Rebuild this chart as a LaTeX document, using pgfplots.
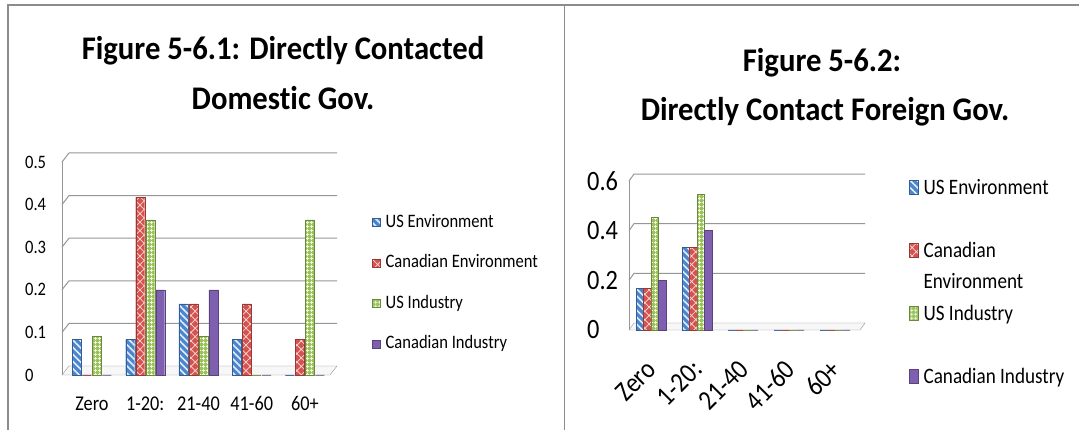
\documentclass[border=0pt]{standalone}
\usepackage{pgfplots}
\pgfplotsset{compat=1.18}
\usetikzlibrary{patterns.meta}
\usepackage{fontspec}
\setmainfont{Carlito}[Ligatures=NoCommon]
\newfontfamily\lab{Carlito}[FakeStretch=0.87, Ligatures=NoCommon]
\newfontfamily\ttl{Carlito}[FakeStretch=0.93, Ligatures=NoCommon]

\definecolor{usenv}{RGB}{74,134,208}
\definecolor{caenv}{RGB}{214,82,78}
\definecolor{usind}{RGB}{155,195,90}
\definecolor{caind}{RGB}{126,95,176}
\definecolor{gridc}{RGB}{150,150,150}
\definecolor{framec}{RGB}{140,140,140}

% shares of respondents by number of contacts
\pgfplotstableread{
x  usenv  caenv  usind  caind
0  0.083  0.000  0.091  0.000
1  0.083  0.417  0.364  0.200
2  0.167  0.167  0.091  0.200
3  0.083  0.167  0.000  0.000
4  0.000  0.083  0.364  0.000
}\domestic
\pgfplotstableread{
x  usenv  caenv  usind  caind
0  0.167  0.167  0.455  0.200
1  0.333  0.333  0.545  0.400
2  0.000  0.000  0.000  0.000
3  0.000  0.000  0.000  0.000
4  0.000  0.000  0.000  0.000
}\foreign

\pgfplotsset{
  sUSE/.style={fill=usenv, draw=usenv!70!black, line width=0.4pt,
    postaction={pattern={Lines[angle=-45, distance=5pt, line width=1.6pt]}, pattern color=white!85!usenv}},
  sCAE/.style={fill=caenv, draw=caenv!70!black, line width=0.4pt,
    postaction={pattern={Hatch[angle=45, distance=6pt, line width=0.7pt]}, pattern color=white!80!caenv}},
  sUSI/.style={fill=usind, draw=usind!70!black, line width=0.4pt,
    postaction={pattern={Hatch[angle=0, distance=4pt, line width=0.9pt]}, pattern color=white!85!usind}},
  sCAI/.style={fill=caind, draw=caind!70!black, line width=0.4pt},
  chart/.style={
    scale only axis, clip=false,
    axis line style={draw=none}, tick style={draw=none},
    xtick={0,...,4}, xticklabels={Zero,1-20:,21-40,41-60,60+},
    /pgf/number format/fixed, /pgf/number format/assume math mode=true,
    yticklabel style={anchor=west, inner sep=0pt},
  },
}

\begin{document}
\begin{tikzpicture}[x=1pt,y=1pt]
\useasboundingbox (0,0) rectangle (1079,430);
\fill[white] (0,0) rectangle (1079,430);
\draw[framec, line width=2pt] (8,0) -- (8,424.5) -- (1079,424.5);
\draw[framec, line width=1pt] (564,0) -- (564,424.5);

% titles
\node[font=\ttl\bfseries\fontsize{33}{40}\selectfont, anchor=base] at (283,370) {Figure 5-6.1: Directly Contacted};
\node[font=\ttl\bfseries\fontsize{33}{40}\selectfont, anchor=base] at (283,320) {Domestic Gov.};
\node[font=\ttl\bfseries\fontsize{33}{40}\selectfont, anchor=base] at (822,358) {Figure 5-6.2:};
\node[font=\ttl\bfseries\fontsize{33}{40}\selectfont, anchor=base] at (825,309) {Directly Contact Foreign Gov.};

% left: domestic government
\begin{axis}[chart,
  at={(62pt,55pt)}, anchor=south west, width=268pt, height=213pt,
  xmin=-0.563, xmax=4.47, ymin=0, ymax=0.5,
  ytick={0,0.1,...,0.5},
  ybar=1pt, bar width=9pt,
  yticklabel style={font=\lab\fontsize{19}{19}\selectfont, xshift=-37pt},
  xticklabel style={font=\lab\fontsize{21}{21}\selectfont, yshift=-14pt},
  legend style={draw=none, fill=none, at={(1.157,0.76)}, anchor=north west,
    font=\lab\fontsize{19}{19}\selectfont, row sep=0pt, column sep=5pt,
    inner sep=0pt, cells={anchor=base west},
    nodes={inner sep=0pt, text height=14pt, text depth=26.5pt}},
  legend image code/.code={\draw[#1] (0pt,1pt) rectangle (8pt,9pt);},
]
\filldraw[fill=gray!6, draw=gridc] (axis cs:-0.563,0) -- (axis cs:4.47,0) -- ++(7pt,9pt) -- ([xshift=7pt,yshift=9pt]axis cs:-0.563,0) -- cycle;
\pgfplotsinvokeforeach{0.1,0.2,0.3,0.4,0.5}{
  \draw[gridc, line width=1pt] (axis cs:-0.563,#1) -- ++(7pt,9pt) -- ([xshift=7pt,yshift=9pt]axis cs:4.47,#1);
}
\draw[gridc, line width=1pt] (axis cs:-0.563,0) -- (axis cs:-0.563,0.5);
\addplot[sUSE] table[x=x, y=usenv] {\domestic};
\addplot[sCAE] table[x=x, y=caenv] {\domestic};
\addplot[sUSI] table[x=x, y=usind] {\domestic};
\addplot[sCAI] table[x=x, y=caind] {\domestic};
\legend{US Environment, Canadian Environment, US Industry, Canadian Industry}
\end{axis}

% right: foreign government
\begin{axis}[chart,
  at={(629pt,100pt)}, anchor=south west, width=231pt, height=149pt,
  xmin=-0.478, xmax=4.54, ymin=0, ymax=0.6,
  ytick={0,0.2,0.4,0.6},
  ybar=0pt, bar width=7.5pt,
  yticklabel style={font=\lab\fontsize{28}{28}\selectfont, xshift=-42pt},
  xticklabel style={font=\lab\fontsize{28}{28}\selectfont,
    xshift=-6pt, yshift=-24pt, rotate=45, anchor=north east, inner sep=0pt},
  legend style={draw=none, fill=none, at={(1.212,1.02)}, anchor=north west,
    font=\lab\fontsize{22}{31}\selectfont, row sep=0pt, column sep=5pt,
    inner sep=0pt, cells={anchor=base west},
    nodes={inner sep=0pt, text height=16pt, text depth=47pt}},
  legend image code/.code={\draw[#1] (0pt,0pt) rectangle (9pt,14pt);},
]
\filldraw[fill=gray!6, draw=gridc] (axis cs:-0.478,0) -- (axis cs:4.54,0) -- ++(5pt,7pt) -- ([xshift=5pt,yshift=7pt]axis cs:-0.478,0) -- cycle;
\pgfplotsinvokeforeach{0.2,0.4,0.6}{
  \draw[gridc, line width=1pt] (axis cs:-0.478,#1) -- ++(5pt,7pt) -- ([xshift=5pt,yshift=7pt]axis cs:4.54,#1);
}
\draw[gridc, line width=1pt] (axis cs:-0.478,0) -- (axis cs:-0.478,0.6);
\addplot[sUSE] table[x=x, y=usenv] {\foreign};
\addplot[sCAE] table[x=x, y=caenv] {\foreign};
\addplot[sUSI] table[x=x, y=usind] {\foreign};
\addplot[sCAI] table[x=x, y=caind] {\foreign};
\addlegendentry{US Environment}
\addlegendentry{\begin{tabular}[t]{@{}l@{}}Canadian\\Environment\end{tabular}}
\addlegendentry{US Industry}
\addlegendentry{Canadian Industry}
\end{axis}
\end{tikzpicture}
\end{document}
